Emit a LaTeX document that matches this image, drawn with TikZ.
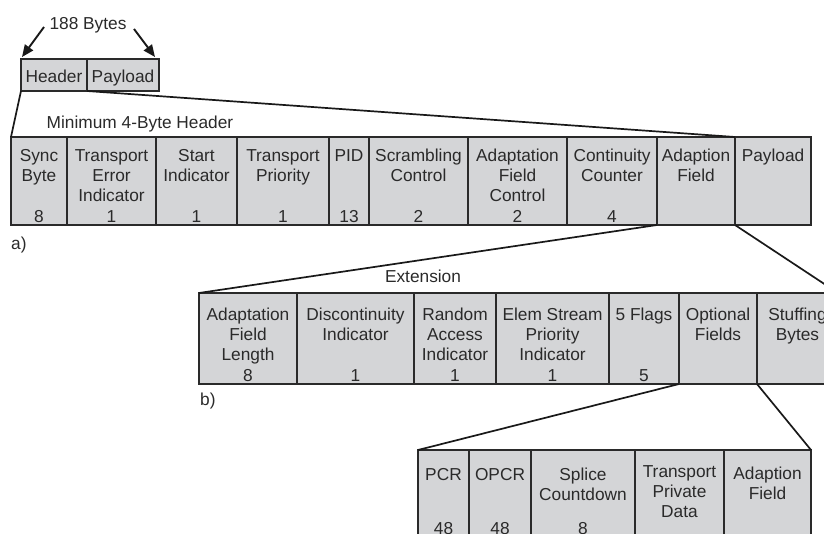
\documentclass[tikz,border=0pt]{standalone}
\usepackage{fontspec}
\setmainfont{Liberation Sans}
\usetikzlibrary{arrows.meta}
\definecolor{cellfill}{HTML}{D4D5D7}
\definecolor{inkgray}{HTML}{2A2A2A}
\tikzset{
  cellbox/.style={draw=inkgray, fill=cellfill, line width=1.8pt, inner sep=0pt, outer sep=0pt},
  celltext/.style={inner sep=0pt, align=center, text=inkgray, font=\fontsize{17.3}{20}\selectfont},
  numtext/.style={inner sep=0pt, text=inkgray, font=\fontsize{17.3}{20}\selectfont},
  captext/.style={inner sep=0pt, text=inkgray, font=\fontsize{17.3}{20}\selectfont},
  zoomline/.style={draw=black!90, line width=1.7pt},
  sizearrow/.style={draw=black!90, line width=1.9pt, -{Triangle[length=12pt,width=10pt]}},
}
\newcommand{\fieldcell}[9]{%
  \node[cellbox, anchor=north west, minimum width={#3-#2}, minimum height={#5-#4}] (#1) at (#2,#4) {};
  \node[celltext, anchor=north] (#1-t) at ({(#2+#3)/2},#6) {#7};
  \if\relax\detokenize{#9}\relax\else
    \node[numtext, anchor=base] (#1-n) at ({(#2+#3)/2},#8) {#9};
  \fi
}
\begin{document}
\begin{tikzpicture}[x=1pt,y=-1pt]
\useasboundingbox (0,0) rectangle (824,534);
\clip (0,0) rectangle (824,534);

% top packet
\node[cellbox, anchor=north west, minimum width=66, minimum height=32] (hdr) at (21,59) {};
\node[cellbox, anchor=north west, minimum width=72, minimum height=32] (pay) at (87,59) {};
\node[celltext, anchor=base] (hdr-t) at (54,83) {Header};
\node[celltext, anchor=base] (pay-t) at (123,83) {Payload};
\node[captext, anchor=base] (bytes) at (88,30) {188 Bytes};
\coordinate (arrLs) at (44,27);
\coordinate (arrLe) at (22,57);
\coordinate (arrRs) at (134,29);
\coordinate (arrRe) at (155,57);
\draw[sizearrow] (arrLs) -- (arrLe);
\draw[sizearrow] (arrRs) -- (arrRe);

% row a
\node[captext, anchor=base] (minhdr) at (140,129) {Minimum 4-Byte Header};
\fieldcell{sync}{11}{67}{137}{225}{149}{Sync\\Byte}{223}{8}
\fieldcell{tei}{67}{156}{137}{225}{149}{Transport\\Error\\Indicator}{223}{1}
\fieldcell{start}{156}{237}{137}{225}{149}{Start\\Indicator}{223}{1}
\fieldcell{tprio}{237}{329}{137}{225}{149}{Transport\\Priority}{223}{1}
\fieldcell{pid}{329}{369}{137}{225}{149}{PID}{223}{13}
\fieldcell{scram}{369}{468}{137}{225}{149}{Scrambling\\Control}{223}{2}
\fieldcell{afc}{468}{567}{137}{225}{149}{Adaptation\\Field\\Control}{223}{2}
\fieldcell{cc}{567}{657}{137}{225}{149}{Continuity\\Counter}{223}{4}
\fieldcell{afA}{657}{735}{137}{225}{149}{Adaption\\Field}{223}{}
\fieldcell{payA}{735}{811}{137}{225}{149}{Payload}{223}{}
\node[captext, anchor=base west] (labA) at (11,250) {a)};

% row b
\node[captext, anchor=base] (ext) at (423,283) {Extension};
\fieldcell{afl}{199}{297}{293}{384}{307.5}{Adaptation\\Field\\Length}{381.5}{8}
\fieldcell{disc}{297}{414}{293}{384}{307.5}{Discontinuity\\Indicator}{381.5}{1}
\fieldcell{rai}{414}{496}{293}{384}{307.5}{Random\\Access\\Indicator}{381.5}{1}
\fieldcell{esp}{496}{609}{293}{384}{307.5}{Elem Stream\\Priority\\Indicator}{381.5}{1}
\fieldcell{flags}{609}{679}{293}{384}{307.5}{5 Flags}{381.5}{5}
\fieldcell{opt}{679}{757}{293}{384}{307.5}{Optional\\Fields}{381.5}{}
\fieldcell{stuff}{757}{838}{293}{384}{307.5}{Stuffing\\Bytes}{381.5}{}
\node[captext, anchor=base west] (labB) at (200,405) {b)};

% row c
\fieldcell{pcr}{418}{469}{450}{570}{468}{PCR}{534}{48}
\fieldcell{opcr}{469}{531}{450}{570}{468}{OPCR}{534}{48}
\fieldcell{splice}{531}{635}{450}{570}{468}{Splice\\Countdown}{534}{8}
\fieldcell{tpd}{635}{724}{450}{570}{465}{Transport\\Private\\Data}{534}{}
\fieldcell{afC}{724}{811}{450}{570}{467}{Adaption\\Field}{534}{}

% zoom connectors
\draw[zoomline] (hdr.south west) -- (sync.north west);
\draw[zoomline] (hdr.south east) -- (afA.north east);
\draw[zoomline] (afA.south west) -- (afl.north west);
\draw[zoomline] (afA.south east) -- (stuff.north east);
\draw[zoomline] (opt.south west) -- (pcr.north west);
\draw[zoomline] (opt.south east) -- (afC.north east);
\end{tikzpicture}
\end{document}
